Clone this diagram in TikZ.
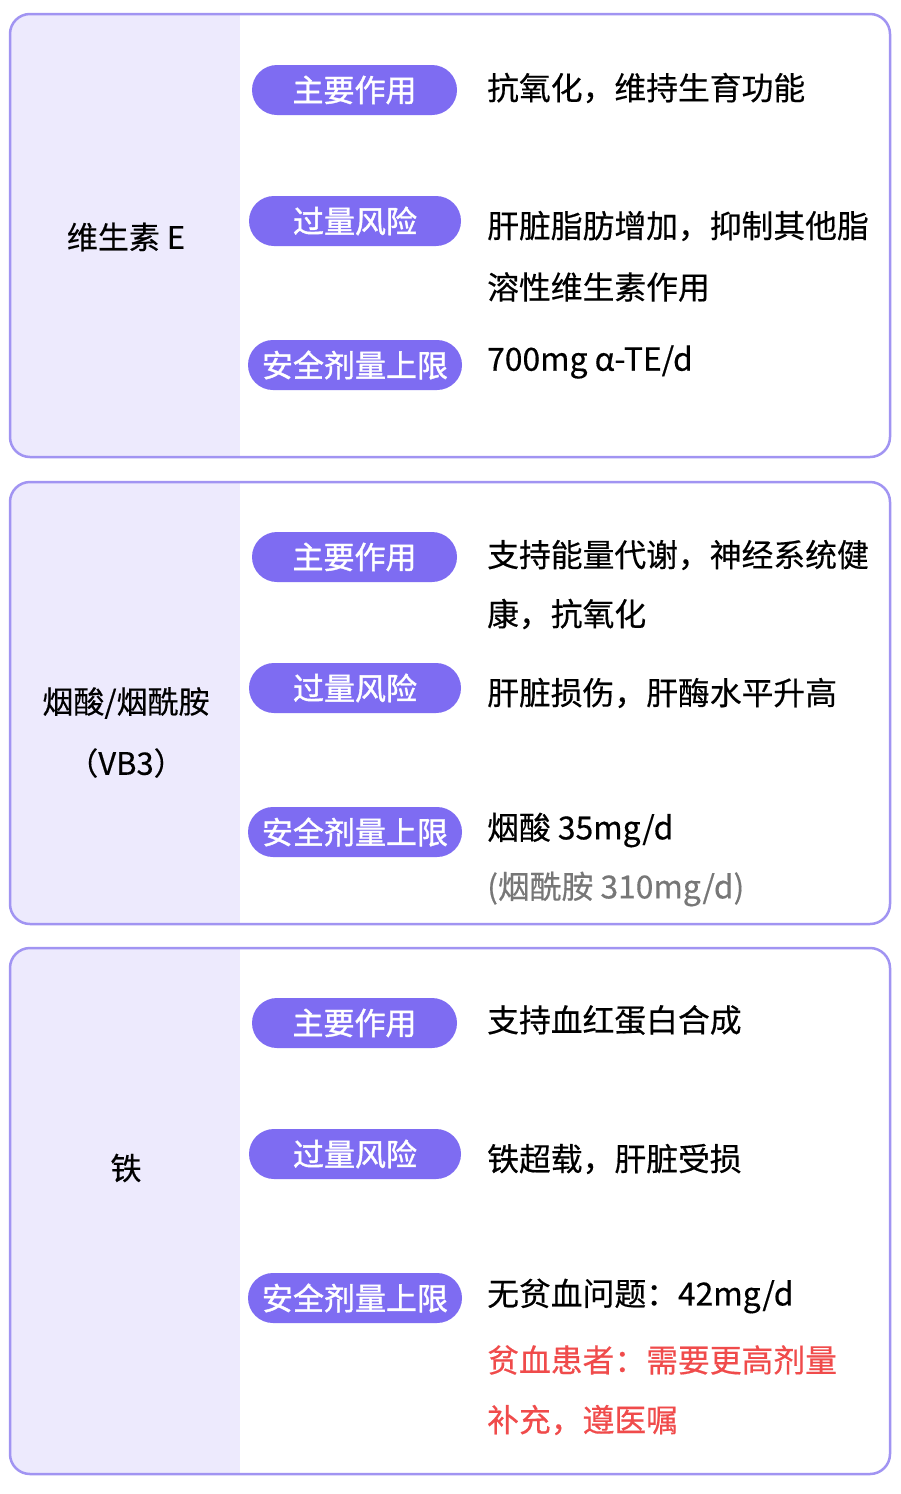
\documentclass[tikz,border=0pt]{standalone}
\usepackage{fontspec}
\setmainfont{Noto Sans CJK SC}
\newfontfamily\pillfont{Noto Sans CJK SC}[FakeBold=1.2]
\newfontfamily\bodyfont{Noto Sans CJK SC}[FakeBold=0.4]
\definecolor{bord}{HTML}{A194F2}
\definecolor{pane}{HTML}{EDEAFD}
\definecolor{pill}{HTML}{7E6CF2}
\definecolor{grayt}{HTML}{777777}
\definecolor{redt}{HTML}{F04B4B}
\begin{document}
\begin{tikzpicture}[x=1pt,y=-1pt,
  pillbox/.style={fill=pill,rounded corners=25pt,minimum height=50pt,text=white,font=\pillfont\fontsize{31}{31}\selectfont,inner sep=0pt},
  body/.style={anchor=west,font=\bodyfont\fontsize{31.8}{31.8}\selectfont,inner sep=0pt},
  lbl/.style={font=\bodyfont\fontsize{31}{31}\selectfont,inner sep=0pt}]
\fill[white] (0,0) rectangle (900,1494);
\useasboundingbox (0,0) rectangle (900,1494);
\foreach \a/\b in {14/457,482/924,948/1474}{
  \begin{scope}
  \clip[rounded corners=20pt] (10,\a) rectangle (890,\b);
  \fill[pane] (10,\a) rectangle (240,\b);
  \end{scope}
  \draw[bord,line width=2.5pt,rounded corners=20pt] (10,\a) rectangle (890,\b);
}
% card 1
\node[lbl] (l1) at (126,237) {维生素 E};
\node[pillbox,minimum width=205pt] (p11) at (354.5,90) {主要作用};
\node[pillbox,minimum width=212pt] (p12) at (355,221) {过量风险};
\node[pillbox,minimum width=214pt] (p13) at (355,365) {安全剂量上限};
\node[body] (t11) at (487,88) {抗氧化，维持生育功能};
\node[body] (t12) at (487,226) {肝脏脂肪增加，抑制其他脂};
\node[body] (t12b) at (487,287) {溶性维生素作用};
\node[body] (t13) at (487,362) {700mg α-TE/d};
% card 2
\node[lbl] (l2) at (126,703) {烟酸/烟酰胺};
\node[lbl] (l2b) at (126,763) {（VB3）};
\node[pillbox,minimum width=205pt] (p21) at (354.5,557) {主要作用};
\node[pillbox,minimum width=212pt] (p22) at (355,688) {过量风险};
\node[pillbox,minimum width=214pt] (p23) at (355,832) {安全剂量上限};
\node[body] (t21) at (487,555) {支持能量代谢，神经系统健};
\node[body] (t21b) at (487,614) {康，抗氧化};
\node[body] (t22) at (487,693) {肝脏损伤，肝酶水平升高};
\node[body] (t23) at (487,830) {烟酸 35mg/d};
\node[body,text=grayt] (t23b) at (487,889) {(烟酰胺 310mg/d)};
% card 3
\node[lbl] (l3) at (126,1168) {铁};
\node[pillbox,minimum width=205pt] (p31) at (354.5,1023) {主要作用};
\node[pillbox,minimum width=212pt] (p32) at (355,1154) {过量风险};
\node[pillbox,minimum width=214pt] (p33) at (355,1298) {安全剂量上限};
\node[body] (t31) at (487,1020) {支持血红蛋白合成};
\node[body] (t32) at (487,1159) {铁超载，肝脏受损};
\node[body] (t33) at (487,1296) {无贫血问题：42mg/d};
\node[body,text=redt] (t33b) at (487,1360) {贫血患者：需要更高剂量};
\node[body,text=redt] (t33c) at (487,1420) {补充，遵医嘱};
\end{tikzpicture}
\end{document}
